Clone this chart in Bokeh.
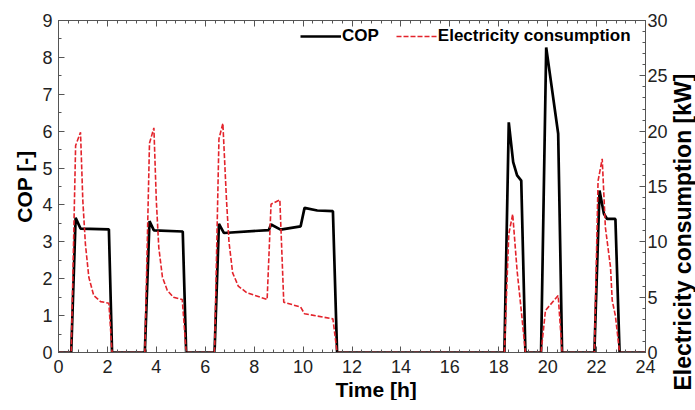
from bokeh.plotting import figure
from bokeh.models import Range1d, LinearAxis, SingleIntervalTicker, Title
from bokeh.layouts import row
from bokeh.embed import file_html
from bokeh.resources import INLINE

# ---- data ----
time_cop = [0, 0.52, 0.70, 0.90, 2.06, 2.19,
            3.53, 3.72, 3.90, 5.08, 5.22,
            6.38, 6.56, 6.76, 8.60, 8.69, 9.08, 9.90, 10.06, 10.58, 11.22, 11.39,
            18.23, 18.41, 18.59, 18.75, 18.92, 19.09,
            19.73, 19.94, 20.43, 20.59,
            21.91, 22.12, 22.30, 22.43, 22.77, 22.94, 24]
cop = [0, 0, 3.65, 3.36, 3.34, 0,
       0, 3.56, 3.31, 3.28, 0,
       0, 3.49, 3.24, 3.32, 3.47, 3.33, 3.42, 3.92, 3.85, 3.83, 0,
       0, 6.24, 5.16, 4.80, 4.66, 0,
       0, 8.27, 5.93, 0,
       0, 4.39, 3.76, 3.62, 3.62, 0, 0]

time_el = [0, 0.52, 0.70, 0.90, 0.995, 1.10, 1.24, 1.44, 1.72, 2.06, 2.19,
           3.53, 3.72, 3.90, 4.00, 4.10, 4.25, 4.45, 4.70, 5.06, 5.22,
           6.38, 6.56, 6.72, 6.87, 6.97, 7.12, 7.35, 7.70, 8.53, 8.69, 9.05, 9.21, 9.90, 10.06, 11.22, 11.39,
           18.23, 18.41, 18.57, 18.75, 18.92, 19.09,
           19.73, 19.91, 20.43, 20.59,
           21.91, 22.06, 22.23, 22.36, 22.57, 22.64, 22.77, 22.94, 24]
elec = [0, 0, 18.7, 19.9, 13.7, 9.8, 6.8, 5.15, 4.6, 4.45, 0,
        0, 18.9, 20.3, 13.7, 9.5, 6.8, 5.6, 5.0, 4.79, 0,
        0, 19.3, 20.7, 13.7, 10.0, 7.2, 6.0, 5.4, 4.79, 13.4, 13.8, 4.55, 4.1, 3.5, 3.04, 0,
        0, 10.7, 12.5, 7.4, 3.8, 0,
        0, 3.8, 5.15, 0,
        0, 15.5, 17.5, 11.3, 7.7, 4.7, 3.3, 0, 0]

x_ticks_interval = 2
cop_range = (0, 9)
elec_range = (0, 30)
right_title = "Electricity consumption [kW]"

AX = "#555555"
FONT = "Liberation Sans"

p = figure(output_backend="svg", toolbar_location=None,
           x_range=Range1d(0, 24), y_range=Range1d(*cop_range),
           min_border_left=58, min_border_right=0, min_border_top=20, min_border_bottom=0,
           frame_width=587, frame_height=332)
p.extra_y_ranges = {"elec": Range1d(*elec_range)}
p.xgrid.visible = False
p.ygrid.visible = False
p.outline_line_color = AX
p.background_fill_color = "white"
p.border_fill_color = "white"

p.line(time_cop, cop, line_color="black", line_width=2.7, legend_label="COP")
p.line(time_el, elec, line_color="#e3232b", line_width=1.6, line_dash="5 2",
       y_range_name="elec", legend_label="Electricity consumption")

def style(ax, interval, nminor, standoff):
    ax.ticker = SingleIntervalTicker(interval=interval, num_minor_ticks=nminor)
    ax.axis_line_color = AX
    ax.major_tick_line_color = AX
    ax.minor_tick_line_color = AX
    ax.major_tick_in = 6
    ax.major_tick_out = 0
    ax.minor_tick_in = 3
    ax.minor_tick_out = 0
    ax.major_label_text_font = FONT
    ax.major_label_text_font_size = "18px"
    ax.major_label_text_color = "#222222"
    ax.major_label_standoff = standoff
    ax.axis_label_text_font = FONT
    ax.axis_label_text_font_style = "bold"
    ax.axis_label_text_color = "black"

style(p.xaxis[0], x_ticks_interval, 5, 7)
style(p.yaxis[0], 1, 2, 6)
p.yaxis[0].axis_label = "COP [-]"
p.yaxis[0].axis_label_text_font_size = "21px"
p.yaxis[0].axis_label_standoff = 3

right = LinearAxis(y_range_name="elec")
style(right, 5, 5, 2)
p.add_layout(right, "right")

top = LinearAxis()
style(top, x_ticks_interval, 5, 0)
top.major_label_text_font_size = "1px"
top.major_label_text_color = None
p.add_layout(top, "above")

p.add_layout(Title(text="Time [h]", align="left", offset=277, standoff=0,
                   text_font=FONT, text_font_style="bold", text_font_size="21px",
                   text_color="black"), "below")

lg = p.legend[0]
lg.location = (242, 306)
lg.orientation = "horizontal"
lg.border_line_alpha = 0
lg.background_fill_alpha = 0
lg.padding = 0
lg.margin = 0
lg.spacing = 17
lg.glyph_width = 41
lg.glyph_height = 20
lg.label_standoff = 1
lg.label_text_font = FONT
lg.label_text_font_style = "bold"
lg.label_text_font_size = "17px"
lg.label_text_color = "black"

# narrow strip whose left-side title carries the right-hand axis title (reads bottom-to-top)
q = figure(width=26, height=400, output_backend="svg", toolbar_location=None,
           x_range=Range1d(0, 1), y_range=Range1d(0, 1),
           min_border=0, outline_line_color=None)
q.axis.visible = False
q.grid.visible = False
q.border_fill_color = "white"
q.add_layout(Title(text=right_title, align="left", offset=-38, vertical_align="middle",
                   standoff=0, text_font=FONT, text_font_style="bold",
                   text_font_size="23px", text_color="black"), "left")

layout = row(p, q, spacing=0)
open("out.html", "w").write(file_html(layout, INLINE))
